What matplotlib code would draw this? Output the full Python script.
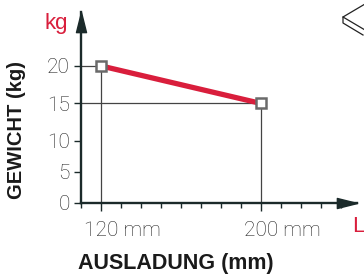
import numpy as np
import matplotlib.pyplot as plt
from matplotlib.path import Path
from matplotlib.lines import Line2D
import matplotlib.transforms as mtransforms

# data
ausladung = [120, 200]      # mm
gewicht = [20, 15]          # kg
y_ticks = [0, 5, 10, 15, 20]
x_minor = list(range(110, 250, 10))

red = '#d91e3c'
dark = '#1b2a2a'
grey = '#555555'

# the y axis of the original drawing is not evenly spaced
y_steps = [0, 5, 10, 15, 20, 40]
y_px = [0, 31, 62, 99.4, 137, 287]

def fwd(v):
    return np.interp(v, y_steps, y_px)

def inv(v):
    return np.interp(v, y_px, y_steps)

W, H = 364, 275
fig = plt.figure(figsize=(W / 100, H / 100), dpi=100)
ax = fig.add_axes([81 / W, 72.3 / H, 276 / W, 190.7 / H])
ax.set_yscale('function', functions=(fwd, inv))
ax.set_xlim(110, 248)
ax.set_ylim(0, 27.2)

# guide lines to the two points
ax.hlines(gewicht, 110, ausladung, color='#444444', lw=0.9, zorder=2)
ax.vlines(ausladung, 0, gewicht, color='#444444', lw=0.9, zorder=2)

# the curve
ax.plot(ausladung, gewicht, color=red, lw=3.8, solid_capstyle='butt', zorder=3)
ax.plot(ausladung, gewicht, ls='none', marker='s', ms=7, mfc='white',
        mec='#6a6a6a', mew=1.8, zorder=4)

# axes with arrow heads
for s in ['top', 'right']:
    ax.spines[s].set_visible(False)
for s in ['left', 'bottom']:
    ax.spines[s].set_color(dark)
    ax.spines[s].set_linewidth(1.7)

up = Path([(-0.25, -1), (0, 0), (0.25, -1), (-0.25, -1)],
          [Path.MOVETO, Path.LINETO, Path.LINETO, Path.CLOSEPOLY])
right = Path([(-1, -0.25), (0, 0), (-1, 0.25), (-1, -0.25)],
             [Path.MOVETO, Path.LINETO, Path.LINETO, Path.CLOSEPOLY])
ax.plot(0, 1, marker=up, ms=29, color=dark, transform=ax.transAxes, clip_on=False)
ax.plot(1, 0, marker=right, ms=29, color=dark, transform=ax.transAxes, clip_on=False)

tick_font = dict(family=['Roboto', 'DejaVu Sans'], weight='light', size=15)

ax.set_xticks(ausladung)
ax.set_xticklabels([f'{v} mm' for v in ausladung], color='#222222', **tick_font)
ax.set_xticks(x_minor, minor=True)
ax.tick_params(axis='x', which='major', length=6, width=1, color=dark, pad=7)
ax.tick_params(axis='x', which='minor', length=3.5, width=1, color=dark)
shift = mtransforms.ScaledTranslation(-17 / 100, 0, fig.dpi_scale_trans)
for lab in ax.get_xticklabels():
    lab.set_horizontalalignment('left')
    lab.set_transform(lab.get_transform() + shift)

ax.set_yticks(y_ticks)
ax.set_yticklabels([str(v) for v in y_ticks], color='#222222', **tick_font)
ax.yaxis.set_minor_locator(plt.NullLocator())
ax.tick_params(axis='y', length=5, width=1, color=dark, pad=3)

# titles
fig.text(17 / W, 1 - 130 / H, 'GEWICHT (kg)', rotation=90, ha='center', va='center',
         family='Liberation Sans', weight='bold', size=14.5, color='#1a1a1a')
fig.text(176 / W, 1 - 263 / H, 'AUSLADUNG (mm)', ha='center', va='center',
         family='Liberation Sans', weight='bold', size=15.5, color='#1a1a1a')
fig.text(56 / W, 1 - 23 / H, 'kg', ha='center', va='center', color=red,
         family='Liberation Sans', size=16)
fig.text(352 / W, 1 - 227 / H, 'L', ha='left', va='center', color=red,
         family='Liberation Sans', size=16)

# small icon cut off in the top right corner
icon_x = [365, 343, 343, 363]
icon_y = [4, 17, 23, 35]
fig.add_artist(Line2D([v / W for v in icon_x], [1 - v / H for v in icon_y],
                      color='#222222', lw=0.9))
fig.add_artist(Line2D([343 / W, 365 / W], [1 - 17 / H, 1 - 30 / H],
                      color='#222222', lw=0.9))

fig.savefig('out.png', dpi=100)
